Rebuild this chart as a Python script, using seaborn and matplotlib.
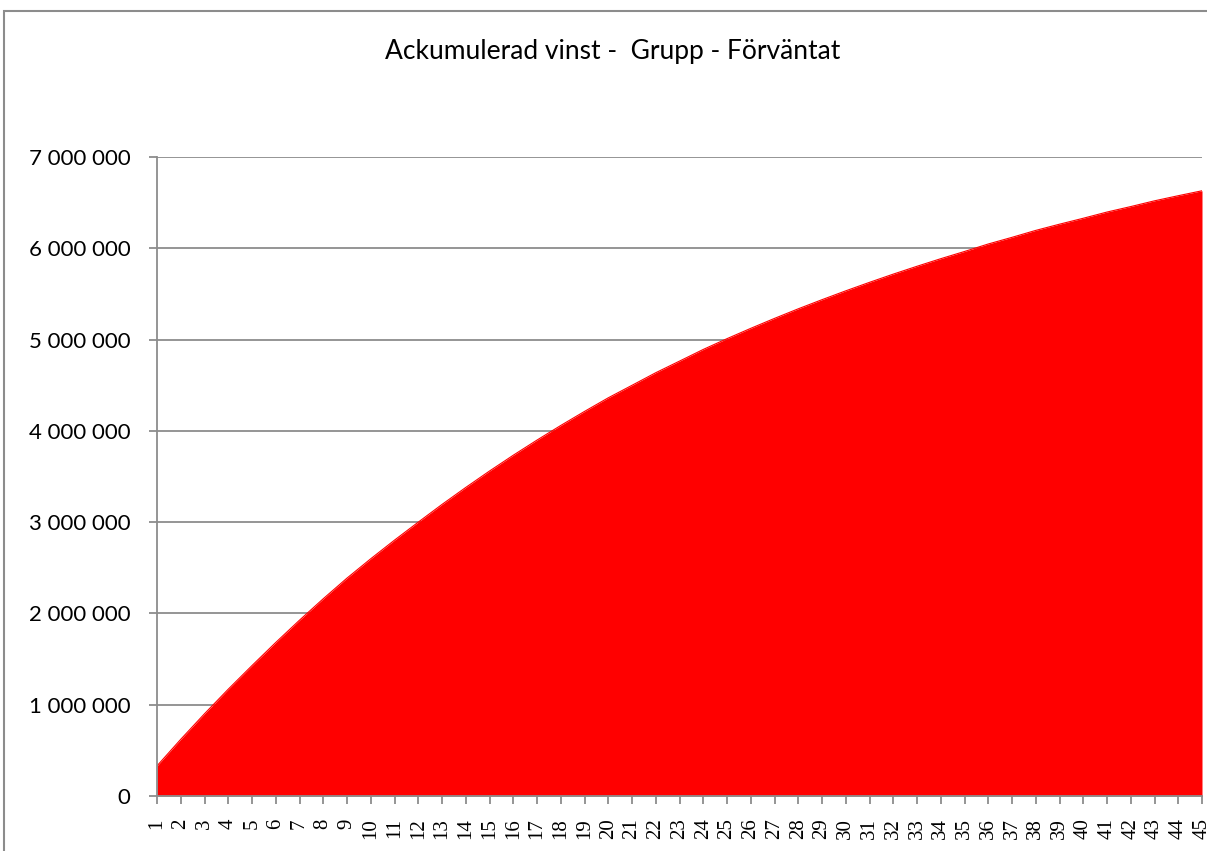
import matplotlib
matplotlib.use("Agg")
import matplotlib.pyplot as plt
import seaborn as sns
import pandas as pd
from matplotlib.patches import Rectangle

periods = list(range(1, 46))
cum_profit = [
    330000, 621000, 901000, 1170000, 1429000, 1682000, 1926000, 2161000, 2387000,
    2599000, 2803000, 3000000, 3194000, 3380000, 3560000, 3733000, 3899000, 4059000,
    4213000, 4362000, 4499000, 4637000, 4764000, 4892000, 5010000, 5123000, 5232000,
    5337000, 5437000, 5534000, 5627000, 5717000, 5803000, 5886000, 5965000, 6047000,
    6120000, 6196000, 6264000, 6329000, 6397000, 6457000, 6520000, 6576000, 6630000,
]
y_ticks = [0, 1000000, 2000000, 3000000, 4000000, 5000000, 6000000, 7000000]
y_labels = ["0", "1 000 000", "2 000 000", "3 000 000", "4 000 000",
            "5 000 000", "6 000 000", "7 000 000"]
title = "Ackumulerad vinst -  Grupp - Förväntat"

df = pd.DataFrame({"period": periods, "vinst": cum_profit})

sns.set_theme(style="white")
plt.rcParams["font.family"] = ["Lato", "DejaVu Sans"]

fig = plt.figure(figsize=(12.07, 8.51), dpi=100)
ax = fig.add_axes([157 / 1207, 1 - 796 / 851, (1202 - 157) / 1207, (796 - 157) / 851])

sns.lineplot(data=df, x="period", y="vinst", color="#FF0000", linewidth=0.8, ax=ax)
ax.fill_between(df["period"], 0, df["vinst"], color="#FF0000", linewidth=0, zorder=2)

ax.set_xlim(1, 45)
ax.set_ylim(0, 7000000)
ax.set_xticks(periods)
ax.set_xticklabels([str(p) for p in periods], rotation=90, va="top", ha="center",
                   fontfamily="Liberation Serif", fontsize=15)
ax.set_yticks(y_ticks)
ax.set_yticklabels(y_labels, fontsize=16)
ax.set_xlabel("")
ax.set_ylabel("")

ax.grid(axis="y", color="#8c8c8c", linewidth=1.3, zorder=0)
ax.set_axisbelow(True)
for s in ["top", "right"]:
    ax.spines[s].set_visible(False)
for s in ["left", "bottom"]:
    ax.spines[s].set_color("#8c8c8c")
    ax.spines[s].set_linewidth(1.3)
    ax.spines[s].set_zorder(3)
ax.tick_params(axis="both", which="major", direction="out", length=6, width=1.3,
               color="#8c8c8c", bottom=True, left=True, labelcolor="black")
ax.tick_params(axis="y", pad=13)
ax.tick_params(axis="x", pad=10)

fig.text(613 / 1207, 1 - 52 / 851, title, ha="center", va="center", fontsize=19, color="black")

fig.patches.append(Rectangle((4 / 1207, -0.1), 1.2, 1 - 11 / 851 + 0.1,
                             transform=fig.transFigure, fill=False,
                             edgecolor="#8c8c8c", linewidth=1.5))

fig.savefig("out.png", dpi=100)
